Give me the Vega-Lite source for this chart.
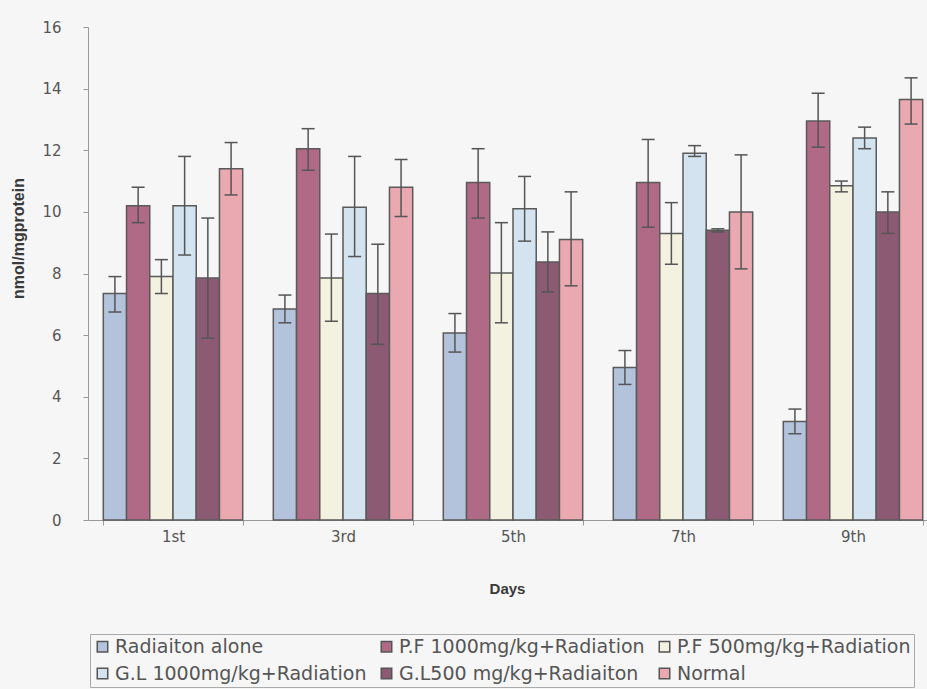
{
  "$schema": "https://vega.github.io/schema/vega-lite/v6.json",
  "width": 839,
  "height": 493,
  "autosize": {"type": "none"},
  "padding": {"left": 88, "top": 27, "right": 0, "bottom": 169},
  "background": "#f5f6f5",
  "config": {"view": {"stroke": null}, "font": "DejaVu Sans"},
  "data": {"values": [
    {"day": "1st", "group": "Radiaiton alone", "mean": 7.35, "lo": 6.75, "hi": 7.9},
    {"day": "1st", "group": "P.F 1000mg/kg+Radiation", "mean": 10.2, "lo": 9.65, "hi": 10.8},
    {"day": "1st", "group": "P.F 500mg/kg+Radiation", "mean": 7.9, "lo": 7.35, "hi": 8.45},
    {"day": "1st", "group": "G.L 1000mg/kg+Radiation", "mean": 10.2, "lo": 8.6, "hi": 11.8},
    {"day": "1st", "group": "G.L500 mg/kg+Radiaiton", "mean": 7.85, "lo": 5.9, "hi": 9.8},
    {"day": "1st", "group": "Normal", "mean": 11.4, "lo": 10.55, "hi": 12.25},
    {"day": "3rd", "group": "Radiaiton alone", "mean": 6.85, "lo": 6.4, "hi": 7.3},
    {"day": "3rd", "group": "P.F 1000mg/kg+Radiation", "mean": 12.05, "lo": 11.35, "hi": 12.7},
    {"day": "3rd", "group": "P.F 500mg/kg+Radiation", "mean": 7.85, "lo": 6.45, "hi": 9.28},
    {"day": "3rd", "group": "G.L 1000mg/kg+Radiation", "mean": 10.15, "lo": 8.55, "hi": 11.8},
    {"day": "3rd", "group": "G.L500 mg/kg+Radiaiton", "mean": 7.35, "lo": 5.7, "hi": 8.95},
    {"day": "3rd", "group": "Normal", "mean": 10.8, "lo": 9.85, "hi": 11.7},
    {"day": "5th", "group": "Radiaiton alone", "mean": 6.07, "lo": 5.45, "hi": 6.7},
    {"day": "5th", "group": "P.F 1000mg/kg+Radiation", "mean": 10.95, "lo": 9.8, "hi": 12.05},
    {"day": "5th", "group": "P.F 500mg/kg+Radiation", "mean": 8.02, "lo": 6.4, "hi": 9.65},
    {"day": "5th", "group": "G.L 1000mg/kg+Radiation", "mean": 10.1, "lo": 9.05, "hi": 11.15},
    {"day": "5th", "group": "G.L500 mg/kg+Radiaiton", "mean": 8.37, "lo": 7.4, "hi": 9.35},
    {"day": "5th", "group": "Normal", "mean": 9.1, "lo": 7.6, "hi": 10.65},
    {"day": "7th", "group": "Radiaiton alone", "mean": 4.95, "lo": 4.4, "hi": 5.5},
    {"day": "7th", "group": "P.F 1000mg/kg+Radiation", "mean": 10.95, "lo": 9.5, "hi": 12.35},
    {"day": "7th", "group": "P.F 500mg/kg+Radiation", "mean": 9.3, "lo": 8.3, "hi": 10.3},
    {"day": "7th", "group": "G.L 1000mg/kg+Radiation", "mean": 11.9, "lo": 11.8, "hi": 12.15},
    {"day": "7th", "group": "G.L500 mg/kg+Radiaiton", "mean": 9.4, "lo": 9.35, "hi": 9.45},
    {"day": "7th", "group": "Normal", "mean": 10.0, "lo": 8.15, "hi": 11.85},
    {"day": "9th", "group": "Radiaiton alone", "mean": 3.2, "lo": 2.8, "hi": 3.6},
    {"day": "9th", "group": "P.F 1000mg/kg+Radiation", "mean": 12.95, "lo": 12.1, "hi": 13.85},
    {"day": "9th", "group": "P.F 500mg/kg+Radiation", "mean": 10.85, "lo": 10.65, "hi": 11.0},
    {"day": "9th", "group": "G.L 1000mg/kg+Radiation", "mean": 12.4, "lo": 12.05, "hi": 12.75},
    {"day": "9th", "group": "G.L500 mg/kg+Radiaiton", "mean": 10.0, "lo": 9.3, "hi": 10.65},
    {"day": "9th", "group": "Normal", "mean": 13.65, "lo": 12.85, "hi": 14.35}
  ]},
  "encoding": {
    "x": {
      "field": "day", "type": "nominal", "sort": ["1st", "3rd", "5th", "7th", "9th"],
      "scale": {"range": [0, 850], "paddingInner": 0.18, "paddingOuter": 0.09},
      "axis": {
        "title": "Days", "titleFont": "Liberation Sans", "titleFontSize": 15, "titleFontWeight": "bold", "titleColor": "#3a3a3a",
        "titleX": 419, "titleY": 68, "titleBaseline": "middle",
        "labelAngle": 0, "labelFontSize": 15, "labelColor": "#555", "labelPadding": 4,
        "tickBand": "extent", "tickSize": 5, "tickColor": "#999", "domainColor": "#999"
      }
    },
    "xOffset": {
      "field": "group", "type": "nominal",
      "sort": ["Radiaiton alone", "P.F 1000mg/kg+Radiation", "P.F 500mg/kg+Radiation", "G.L 1000mg/kg+Radiation", "G.L500 mg/kg+Radiaiton", "Normal"],
      "scale": {"paddingInner": 0, "paddingOuter": 0}
    }
  },
  "layer": [
    {
      "mark": {"type": "bar", "stroke": "#5a5a5a", "strokeWidth": 1.5},
      "encoding": {
        "y": {
          "field": "mean", "type": "quantitative",
          "scale": {"domain": [0, 16], "nice": false},
          "axis": {
            "title": "nmol/mgprotein", "titleFont": "Liberation Sans", "titleFontSize": 16, "titleFontWeight": "bold", "titleColor": "#3a3a3a",
            "titleX": -62, "titleY": 211,
            "values": [0, 2, 4, 6, 8, 10, 12, 14, 16], "grid": false,
            "labelFontSize": 15, "labelColor": "#555", "labelPadding": 22,
            "tickSize": 5, "tickColor": "#999", "domainColor": "#999"
          }
        },
        "color": {
          "field": "group", "type": "nominal",
          "sort": ["Radiaiton alone", "P.F 1000mg/kg+Radiation", "P.F 500mg/kg+Radiation", "G.L 1000mg/kg+Radiation", "G.L500 mg/kg+Radiaiton", "Normal"],
          "scale": {"range": ["#b3c3dc", "#b06a86", "#f3f1df", "#d3e3ef", "#8c5a73", "#eaa9b1"]},
          "legend": {
            "title": null, "orient": "none", "legendX": 2, "legendY": 607,
            "direction": "horizontal", "columns": 3, "columnPadding": 10, "rowPadding": 7,
            "labelFontSize": 19, "labelColor": "#555", "labelLimit": 400, "labelOffset": 3,
            "symbolType": "square", "symbolSize": 110, "symbolStrokeColor": "#555", "symbolStrokeWidth": 1.5, "symbolOpacity": 1,
            "strokeColor": "#aaa", "padding": 3
          }
        }
      }
    },
    {
      "mark": {"type": "rule", "color": "#555", "strokeWidth": 1.5},
      "encoding": {"y": {"field": "lo", "type": "quantitative"}, "y2": {"field": "hi"}}
    },
    {
      "mark": {"type": "tick", "color": "#555", "thickness": 1.5, "size": 13, "opacity": 1},
      "encoding": {"y": {"field": "hi", "type": "quantitative"}}
    },
    {
      "mark": {"type": "tick", "color": "#555", "thickness": 1.5, "size": 13, "opacity": 1},
      "encoding": {"y": {"field": "lo", "type": "quantitative"}}
    }
  ]
}
